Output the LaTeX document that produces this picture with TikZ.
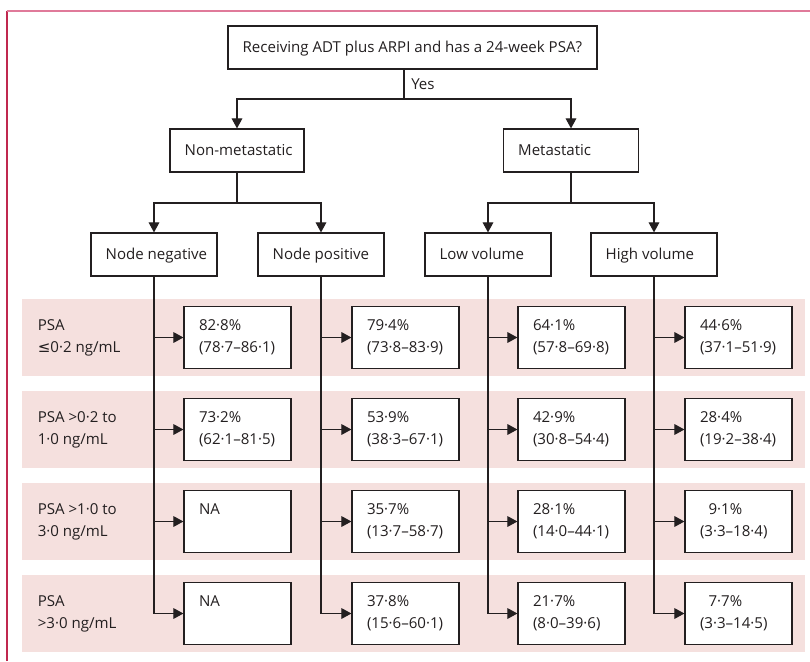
\documentclass[tikz,border=0pt]{standalone}
\usepackage{fontspec}
\setmainfont{Open Sans}
\newfontfamily\symfont{DejaVu Sans}
\usetikzlibrary{arrows.meta}
\definecolor{ink}{HTML}{231F20}
\definecolor{band}{HTML}{F5E0DE}
\definecolor{frametop}{HTML}{E07A9A}
\definecolor{frameleft}{HTML}{C0284F}
\newcommand\rbox[4]{%
  \node[box, minimum width=80.25pt, minimum height=46.5pt] (#1) at (#2,#3) {};
  \node[txt] (#1-t) at ([xshift=11.5pt]#1.west) {#4};
}
\newcommand\flowbox[5]{% name, x, y, width(pt), text
  \node[box, minimum width=#4, minimum height=32.25pt] (#1) at (#2,#3) {};
  \node[stxt] (#1-t) at ([xshift=11.25pt,yshift=-4.1pt]#1.west) {#5};
}
\begin{document}
\begin{tikzpicture}[x=0.75pt,y=-0.75pt,
  font=\fontsize{11.3}{16.75}\selectfont,
  box/.style={draw=ink, line width=0.9pt, fill=white, inner sep=0pt},
  conn/.style={draw=ink, line width=0.8pt},
  arr/.style={conn, -{Triangle[length=7.5pt,width=8pt]}},
  txt/.style={text=ink, anchor=west, align=left, inner sep=0pt},
  stxt/.style={text=ink, anchor=base west, inner sep=0pt}]
\useasboundingbox (0,0) rectangle (810,661);
% frame
\draw[frameleft, line width=1pt] (7,661) -- (7,11);
\draw[frametop, line width=1.5pt] (6.5,11) -- (810,11);
% bands
\foreach \yt in {299,391,483,575}{
  \fill[band] (22,\yt) rectangle (805,\yt+77);
}
% top
\flowbox{top}{412.5}{47.5}{276.75pt}{Receiving ADT plus ARPI and has a 24-week PSA?}
\coordinate (j0) at (404,99);
\draw[conn] (j0 |- top.south) -- (j0);
\node[stxt] (yes) at (411,89) {Yes};
% level 2
\flowbox{nonmet}{237}{150.5}{100.5pt}{Non-metastatic}
\flowbox{met}{571}{150.5}{101.25pt}{Metastatic}
\draw[arr] (j0) -| (nonmet.north);
\draw[arr] (j0) -| (met.north);
% level 3
\flowbox{nneg}{154}{254.5}{94.5pt}{Node negative}
\flowbox{npos}{321}{254.5}{94.5pt}{Node positive}
\flowbox{low}{488}{254.5}{94.5pt}{Low volume}
\flowbox{high}{654}{254.5}{94.5pt}{High volume}
\coordinate (j1) at (237,203);
\coordinate (j2) at (571,203);
\draw[conn] (nonmet.south) -- (j1);
\draw[conn] (met.south) -- (j2);
\draw[arr] (j1) -| (nneg.north);
\draw[arr] (j1) -| (npos.north);
\draw[arr] (j2) -| (low.north);
\draw[arr] (j2) -| (high.north);
% row labels
\node[txt] (l1) at (37.5,338) {PSA\\{\symfont ≤}0·2 ng/mL};
\node[txt] (l2) at (37.5,430) {PSA >0·2 to\\1·0 ng/mL};
\node[txt] (l3) at (37.5,522) {PSA >1·0 to\\3·0 ng/mL};
\node[txt] (l4) at (37.5,614) {PSA\\>3·0 ng/mL};
% result boxes
\rbox{r1c1}{237.5}{337.5}{82·8\%\\(78·7–86·1)}
\rbox{r1c2}{405.5}{337.5}{79·4\%\\(73·8–83·9)}
\rbox{r1c3}{571.5}{337.5}{64·1\%\\(57·8–69·8)}
\rbox{r1c4}{738.5}{337.5}{44·6\%\\(37·1–51·9)}
\rbox{r2c1}{237.5}{429.5}{73·2\%\\(62·1–81·5)}
\rbox{r2c2}{405.5}{429.5}{53·9\%\\(38·3–67·1)}
\rbox{r2c3}{571.5}{429.5}{42·9\%\\(30·8–54·4)}
\rbox{r2c4}{738.5}{429.5}{28·4\%\\(19·2–38·4)}
\rbox{r3c1}{237.5}{521.5}{NA\\\phantom{(0)}}
\rbox{r3c2}{405.5}{521.5}{35·7\%\\(13·7–58·7)}
\rbox{r3c3}{571.5}{521.5}{28·1\%\\(14·0–44·1)}
\rbox{r3c4}{738.5}{521.5}{\phantom{0}9·1\%\\(3·3–18·4)}
\rbox{r4c1}{237.5}{613.5}{NA\\\phantom{(0)}}
\rbox{r4c2}{405.5}{613.5}{37·8\%\\(15·6–60·1)}
\rbox{r4c3}{571.5}{613.5}{21·7\%\\(8·0–39·6)}
\rbox{r4c4}{738.5}{613.5}{\phantom{0}7·7\%\\(3·3–14·5)}
% verticals from node boxes
\foreach \src/\cc in {nneg/1,npos/2,low/3,high/4}{
  \draw[conn] (\src.south) -- (\src.south |- r4c\cc.west);
  \foreach \rr in {1,2,3,4}{
    \draw[arr] (\src.south |- r\rr c\cc.west) -- (r\rr c\cc.west);
  }
}
\end{tikzpicture}
\end{document}
